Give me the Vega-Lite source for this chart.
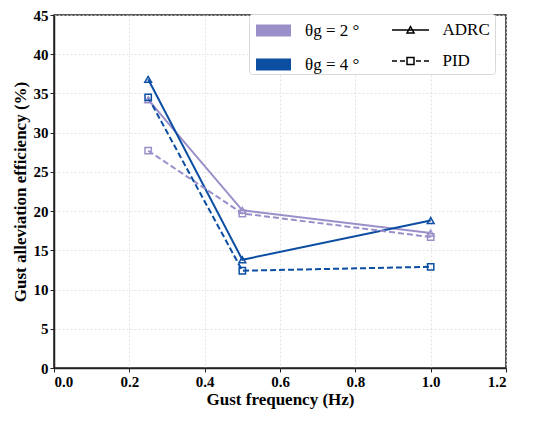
{
  "$schema": "https://vega.github.io/schema/vega-lite/v6.json",
  "width": 452,
  "height": 353,
  "autosize": "none",
  "padding": {"left": 54, "top": 15, "right": 44, "bottom": 53},
  "data": {
    "values": [
      {"freq": 0.25, "theta": "θg = 2 °", "method": "ADRC", "eff": 34.2},
      {"freq": 0.5, "theta": "θg = 2 °", "method": "ADRC", "eff": 20.1},
      {"freq": 1.0, "theta": "θg = 2 °", "method": "ADRC", "eff": 17.2},
      {"freq": 0.25, "theta": "θg = 2 °", "method": "PID", "eff": 27.7},
      {"freq": 0.5, "theta": "θg = 2 °", "method": "PID", "eff": 19.7},
      {"freq": 1.0, "theta": "θg = 2 °", "method": "PID", "eff": 16.7},
      {"freq": 0.25, "theta": "θg = 4 °", "method": "ADRC", "eff": 36.8},
      {"freq": 0.5, "theta": "θg = 4 °", "method": "ADRC", "eff": 13.8},
      {"freq": 1.0, "theta": "θg = 4 °", "method": "ADRC", "eff": 18.8},
      {"freq": 0.25, "theta": "θg = 4 °", "method": "PID", "eff": 34.5},
      {"freq": 0.5, "theta": "θg = 4 °", "method": "PID", "eff": 12.4},
      {"freq": 1.0, "theta": "θg = 4 °", "method": "PID", "eff": 12.9}
    ]
  },
  "encoding": {
    "x": {
      "field": "freq",
      "type": "quantitative",
      "scale": {"domain": [0, 1.2], "nice": false},
      "axis": {
        "values": [0, 0.2, 0.4, 0.6, 0.8, 1.0, 1.2],
        "format": ".1f",
        "title": "Gust frequency (Hz)",
        "titlePadding": 2
      }
    },
    "y": {
      "field": "eff",
      "type": "quantitative",
      "scale": {"domain": [0, 45], "nice": false},
      "axis": {
        "values": [0, 5, 10, 15, 20, 25, 30, 35, 40, 45],
        "title": "Gust alleviation efficiency (%)",
        "titlePadding": 4
      }
    },
    "color": {
      "field": "theta",
      "type": "nominal",
      "scale": {"domain": ["θg = 2 °", "θg = 4 °"], "range": ["#9b8fc9", "#0b4ea2"]},
      "legend": {
        "title": null,
        "orient": "none",
        "legendX": 197,
        "legendY": -1,
        "zindex": 2,
        "padding": 5,
        "rowPadding": 12,
        "symbolType": "M-1.75,-0.47H1.75M-1.75,-0.235H1.75M-1.75,0H1.75M-1.75,0.235H1.75M-1.75,0.47H1.75",
        "symbolSize": 400,
        "symbolStrokeWidth": 2.6,
        "symbolOffset": 6,
        "symbolOpacity": 1,
        "labelOffset": 20,
        "labelLimit": 400
      }
    }
  },
  "layer": [
    {
      "transform": [{"filter": "datum.method === 'ADRC'"}],
      "mark": {"type": "line", "strokeWidth": 2},
      "encoding": {}
    },
    {
      "transform": [{"filter": "datum.method === 'PID'"}],
      "mark": {"type": "line", "strokeWidth": 2, "strokeDash": [6, 3]},
      "encoding": {}
    },
    {
      "transform": [{"filter": "datum.method === 'ADRC'"}],
      "mark": {"type": "point", "shape": "triangle-up", "filled": false, "strokeWidth": 1.5, "size": 45, "opacity": 1},
      "encoding": {}
    },
    {
      "transform": [{"filter": "datum.method === 'PID'"}],
      "mark": {"type": "point", "shape": "square", "filled": false, "strokeWidth": 1.5, "size": 40, "opacity": 1},
      "encoding": {}
    },
    {
      "mark": {"type": "point", "filled": false, "size": 45, "strokeWidth": 0, "opacity": 1},
      "encoding": {
        "color": {"value": "black"},
        "shape": {
          "field": "method",
          "type": "nominal",
          "scale": {
            "domain": ["ADRC", "PID"],
            "range": [
              "M-1.85,0H1.85M-0.35,0.3L0,-0.35L0.35,0.3Z",
              "M-1.85,0H-1.35M-1.05,0H-0.55M0.55,0H1.05M1.35,0H1.85M-0.35,-0.35H0.35V0.35H-0.35Z"
            ]
          },
          "legend": {
            "title": null,
            "orient": "none",
            "legendX": 195,
            "legendY": -1,
            "zindex": 1,
            "padding": 5,
            "rowPadding": 12,
            "fillColor": "white",
            "strokeColor": "#d8d8d8",
            "cornerRadius": 3,
            "symbolSize": 400,
            "symbolStrokeWidth": 1.5,
            "symbolStrokeColor": "black",
            "symbolFillColor": "transparent",
            "symbolOpacity": 1,
            "symbolOffset": 145.5,
            "labelOffset": 21
          }
        }
      }
    }
  ],
  "config": {
    "font": "Liberation Serif, DejaVu Serif, serif",
    "view": {"stroke": "#222", "strokeWidth": 1.5},
    "axis": {
      "domainColor": "#222",
      "domainWidth": 1.5,
      "tickColor": "#222",
      "tickSize": 4,
      "tickWidth": 1,
      "gridColor": "#dcdcdc",
      "gridDash": [2, 2],
      "gridWidth": 0.8,
      "labelFont": "Liberation Serif, DejaVu Serif, serif",
      "labelFontSize": 15,
      "labelFontWeight": "bold",
      "labelColor": "black",
      "labelPadding": 2,
      "titleFont": "Liberation Serif, DejaVu Serif, serif",
      "titleFontSize": 17,
      "titleFontWeight": "bold",
      "titleColor": "black"
    },
    "legend": {
      "labelFont": "Liberation Serif, DejaVu Serif, serif",
      "labelFontSize": 17,
      "labelColor": "black"
    }
  }
}
